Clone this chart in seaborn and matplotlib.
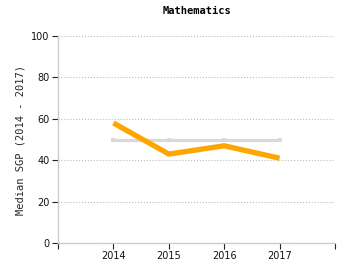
import matplotlib
matplotlib.use("Agg")
import matplotlib.pyplot as plt
import seaborn as sns
import pandas as pd

years = ["2014", "2015", "2016", "2017"]
median_sgp = [58, 43, 47, 41]
baseline = [50, 50, 50, 50]

df = pd.DataFrame({"x": range(len(years)), "sgp": median_sgp, "base": baseline})

sns.set_style("white")
fig = plt.figure(figsize=(3.5, 2.75), dpi=100)
ax = fig.add_axes([0.166, 0.116, 0.791, 0.753])

sns.lineplot(data=df, x="x", y="base", ax=ax, color="#d9d9d9", linewidth=2.2,
             marker="s", markersize=3, markeredgewidth=0)
sns.lineplot(data=df, x="x", y="sgp", ax=ax, color="#FFA500", linewidth=3.8,
             solid_capstyle="butt")

ax.set_xlim(-1, 4)
ax.set_ylim(0, 100)
ax.set_xticks([-1, 0, 1, 2, 3, 4])
ax.set_xticklabels([""] + years + [""])
ax.set_yticks([0, 20, 40, 60, 80, 100])
ax.yaxis.grid(True, linestyle=":", color="#bbbbbb", linewidth=0.8)
ax.set_axisbelow(True)

for s in ["top", "right"]:
    ax.spines[s].set_visible(False)
for s in ["left", "bottom"]:
    ax.spines[s].set_color("#cccccc")
    ax.spines[s].set_linewidth(1)

ax.tick_params(axis="both", which="both", direction="out", length=4, width=0.8,
               bottom=True, left=True,
               color="#222222", labelsize=7, pad=2, labelcolor="#111111")
ax.set_xlabel("")
ax.set_ylabel("Median SGP (2014 - 2017)", fontsize=7.5, family="DejaVu Sans Mono", labelpad=4)
ax.set_title("Mathematics", fontsize=7.5, fontweight="bold", family="DejaVu Sans Mono",
             pad=16, color="black")

fig.savefig("out.png", dpi=100)
